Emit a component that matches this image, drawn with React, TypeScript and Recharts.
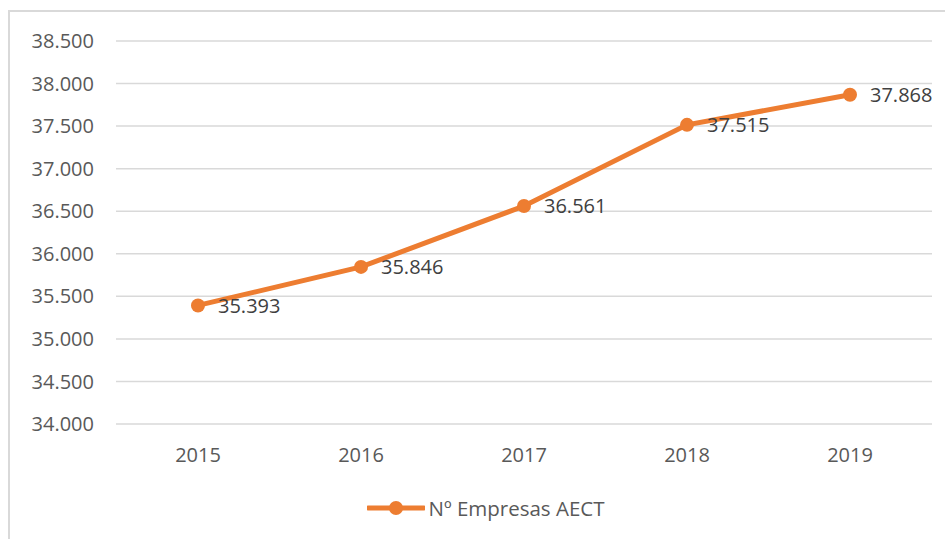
import { LineChart, Line, XAxis, YAxis, CartesianGrid, LabelList, Legend } from "recharts";

const YEARS = ["2015", "2016", "2017", "2018", "2019"];
const EMPRESAS = [35393, 35846, 36561, 37515, 37868];
const Y_TICKS = [34000, 34500, 35000, 35500, 36000, 36500, 37000, 37500, 38000, 38500];

const ORANGE = "#ED7D31";
const FONT = "'Open Sans', sans-serif";

const data = YEARS.map((year, i) => ({ year, value: EMPRESAS[i] }));

const fmt = (v: number) => v.toLocaleString("de-DE");

function LegendContent() {
  return (
    <div style={{ height: 40, display: "flex", alignItems: "center", justifyContent: "center", paddingLeft: 40, fontFamily: FONT, fontSize: 20.5, color: "#595959" }}>
      <svg width={58} height={16} style={{ marginRight: 3 }}>
        <line x1={1} y1={8} x2={57} y2={8} stroke={ORANGE} strokeWidth={5} strokeLinecap="round" />
        <circle cx={29} cy={8} r={7} fill={ORANGE} />
      </svg>
      <span>Nº Empresas AECT</span>
    </div>
  );
}

export default function App() {
  return (
    <div style={{ position: "fixed", left: 0, top: 0, width: 945, height: 539, background: "#fff", overflow: "hidden" }}>
      <div style={{ position: "absolute", left: 8, top: 10, width: 960, height: 560, border: "2px solid #d9d9d9", boxSizing: "border-box" }} />
      <div style={{ position: "absolute", left: 0, top: 0 }}>
        <LineChart width={945} height={539} data={data} margin={{ top: 41, right: 13, bottom: 11, left: 0 }}>
          <CartesianGrid vertical={false} stroke="#d9d9d9" strokeWidth={1.5} />
          <XAxis
            dataKey="year"
            axisLine={false}
            tickLine={false}
            height={64}
            tickMargin={18}
            padding={{ left: 82, right: 82 }}
            tick={{ fill: "#595959", fontSize: 20, fontFamily: FONT }}
          />
          <YAxis
            domain={[34000, 38500]}
            ticks={Y_TICKS}
            interval={0}
            width={116}
            axisLine={false}
            tickLine={false}
            tickMargin={16}
            tickFormatter={fmt}
            tick={{ fill: "#595959", fontSize: 20, fontFamily: FONT }}
          />
          <Legend verticalAlign="bottom" height={40} content={() => <LegendContent />} />
          <Line
            type="linear"
            dataKey="value"
            name="Nº Empresas AECT"
            stroke={ORANGE}
            strokeWidth={5}
            dot={{ r: 7, fill: ORANGE, stroke: ORANGE, strokeWidth: 0 }}
            isAnimationActive={false}
          >
            <LabelList
              dataKey="value"
              position="right"
              offset={20}
              formatter={(v: number) => fmt(v)}
              style={{ fill: "#404040", fontSize: 20, fontFamily: FONT }}
            />
          </Line>
        </LineChart>
      </div>
    </div>
  );
}
